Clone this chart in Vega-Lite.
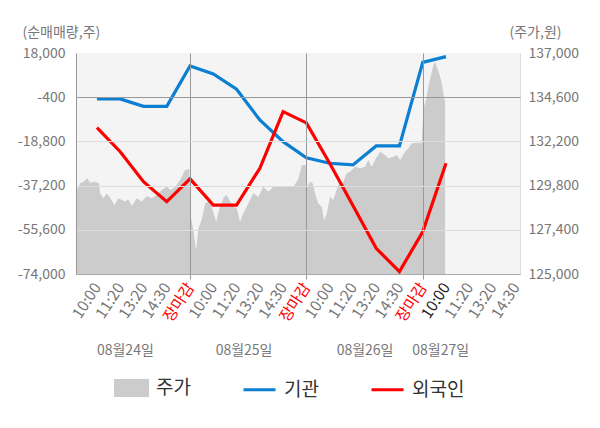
{
  "$schema": "https://vega.github.io/schema/vega-lite/v6.json",
  "autosize": {"type": "none"},
  "width": 444,
  "height": 221,
  "padding": {"left": 76, "top": 53, "right": 80, "bottom": 154},
  "background": "white",
  "config": {
    "view": {"fill": "#f4f4f4", "stroke": null},
    "font": "Noto Sans CJK KR",
    "axis": {"labelFont": "Noto Sans CJK KR", "titleFont": "Noto Sans CJK KR", "titleFontWeight": "normal"},
    "legend": {"labelFont": "Noto Sans CJK KR"}
  },
  "datasets": {
    "price": [
      {"i": -0.90, "p": 130380}, {"i": -0.84, "p": 129560}, {"i": -0.73, "p": 129930}, {"i": -0.58, "p": 130010},
      {"i": -0.41, "p": 130200}, {"i": -0.30, "p": 129960}, {"i": -0.08, "p": 130010}, {"i": 0.09, "p": 129930},
      {"i": 0.13, "p": 129380}, {"i": 0.28, "p": 129110}, {"i": 0.42, "p": 129380}, {"i": 0.56, "p": 129160},
      {"i": 0.75, "p": 128750}, {"i": 0.92, "p": 129110}, {"i": 1.07, "p": 129020}, {"i": 1.21, "p": 128930},
      {"i": 1.35, "p": 129060}, {"i": 1.50, "p": 128690}, {"i": 1.71, "p": 129110}, {"i": 1.93, "p": 128930},
      {"i": 2.14, "p": 129240}, {"i": 2.35, "p": 129110}, {"i": 2.57, "p": 129290}, {"i": 2.78, "p": 129560},
      {"i": 3.00, "p": 129740}, {"i": 3.17, "p": 129560}, {"i": 3.36, "p": 129740}, {"i": 3.57, "p": 130100},
      {"i": 3.79, "p": 130650}, {"i": 3.97, "p": 130700}, {"i": 4.03, "p": 128110}, {"i": 4.14, "p": 127390},
      {"i": 4.26, "p": 126300}, {"i": 4.36, "p": 127480}, {"i": 4.50, "p": 127930}, {"i": 4.65, "p": 128840},
      {"i": 4.79, "p": 128930}, {"i": 4.93, "p": 128650}, {"i": 5.12, "p": 127840}, {"i": 5.29, "p": 128650},
      {"i": 5.46, "p": 129200}, {"i": 5.58, "p": 129290}, {"i": 5.72, "p": 128930}, {"i": 5.86, "p": 128650},
      {"i": 6.01, "p": 128570}, {"i": 6.15, "p": 127840}, {"i": 6.29, "p": 128300}, {"i": 6.51, "p": 128840},
      {"i": 6.72, "p": 129380}, {"i": 6.94, "p": 129200}, {"i": 7.15, "p": 129740}, {"i": 7.37, "p": 129470},
      {"i": 7.58, "p": 129740}, {"i": 7.87, "p": 129740}, {"i": 8.16, "p": 129780}, {"i": 8.44, "p": 129740},
      {"i": 8.65, "p": 130140}, {"i": 8.81, "p": 130920}, {"i": 8.99, "p": 130920}, {"i": 9.04, "p": 129740},
      {"i": 9.16, "p": 130010}, {"i": 9.27, "p": 129930}, {"i": 9.37, "p": 129380}, {"i": 9.51, "p": 128840},
      {"i": 9.66, "p": 128650}, {"i": 9.76, "p": 127930}, {"i": 9.88, "p": 128300}, {"i": 10.02, "p": 129200},
      {"i": 10.16, "p": 129020}, {"i": 10.27, "p": 129470}, {"i": 10.37, "p": 129830}, {"i": 10.59, "p": 130010},
      {"i": 10.73, "p": 130470}, {"i": 10.88, "p": 130550}, {"i": 11.09, "p": 130830}, {"i": 11.31, "p": 130740},
      {"i": 11.52, "p": 130830}, {"i": 11.66, "p": 131190}, {"i": 11.81, "p": 130830}, {"i": 11.99, "p": 131280},
      {"i": 12.17, "p": 131640}, {"i": 12.38, "p": 131460}, {"i": 12.52, "p": 131280}, {"i": 12.74, "p": 131370},
      {"i": 12.88, "p": 131460}, {"i": 13.03, "p": 131190}, {"i": 13.24, "p": 131640}, {"i": 13.38, "p": 131830},
      {"i": 13.53, "p": 132100}, {"i": 13.74, "p": 132130}, {"i": 13.96, "p": 132130}, {"i": 14.03, "p": 134000},
      {"i": 14.14, "p": 134450}, {"i": 14.24, "p": 135170}, {"i": 14.34, "p": 135710}, {"i": 14.46, "p": 136350},
      {"i": 14.53, "p": 136530}, {"i": 14.60, "p": 136260}, {"i": 14.71, "p": 135900}, {"i": 14.82, "p": 135350},
      {"i": 14.89, "p": 134810}, {"i": 14.93, "p": 134450}, {"i": 14.96, "p": 134450}
    ],
    "flow": [
      {"i": 0, "s": "기관", "v": -1100}, {"i": 1, "s": "기관", "v": -1100}, {"i": 2, "s": "기관", "v": -4200},
      {"i": 3, "s": "기관", "v": -4200}, {"i": 4, "s": "기관", "v": 12600}, {"i": 5, "s": "기관", "v": 9300},
      {"i": 6, "s": "기관", "v": 2900}, {"i": 7, "s": "기관", "v": -9900}, {"i": 8, "s": "기관", "v": -18900},
      {"i": 9, "s": "기관", "v": -25600}, {"i": 10, "s": "기관", "v": -27900}, {"i": 11, "s": "기관", "v": -28600},
      {"i": 12, "s": "기관", "v": -20700}, {"i": 13, "s": "기관", "v": -20700}, {"i": 14, "s": "기관", "v": 14100},
      {"i": 15, "s": "기관", "v": 16500},
      {"i": 0, "s": "외국인", "v": -13100}, {"i": 1, "s": "외국인", "v": -23100}, {"i": 2, "s": "외국인", "v": -35600},
      {"i": 3, "s": "외국인", "v": -43900}, {"i": 4, "s": "외국인", "v": -34400}, {"i": 5, "s": "외국인", "v": -45300},
      {"i": 6, "s": "외국인", "v": -45300}, {"i": 7, "s": "외국인", "v": -30000}, {"i": 8, "s": "외국인", "v": -6400},
      {"i": 9, "s": "외국인", "v": -11100}, {"i": 10, "s": "외국인", "v": -27900}, {"i": 11, "s": "외국인", "v": -45500},
      {"i": 12, "s": "외국인", "v": -63300}, {"i": 13, "s": "외국인", "v": -73000}, {"i": 14, "s": "외국인", "v": -56400},
      {"i": 15, "s": "외국인", "v": -27900}
    ]
  },
  "layer": [
    {
      "data": {"name": "price"},
      "mark": {"type": "area", "clip": true, "interpolate": "linear"},
      "encoding": {
        "x": {
          "field": "i", "type": "quantitative",
          "scale": {"domain": [-0.9, 18.18], "nice": false, "zero": false},
          "axis": {
            "orient": "bottom",
            "values": [1.2, 6.3, 11.5, 14.75],
            "labelExpr": "datum.value < 3 ? '08월24일' : datum.value < 8 ? '08월25일' : datum.value < 13 ? '08월26일' : '08월27일'",
            "offset": 69, "domain": false, "ticks": false, "grid": false,
            "labelAngle": 0, "labelFontSize": 14, "labelColor": "#777777", "labelPadding": 0,
            "labelOverlap": false, "labelFlush": false, "labelBound": false, "title": null
          }
        },
        "y": {
          "field": "p", "type": "quantitative",
          "scale": {"domain": [125000, 137000], "nice": false, "zero": false},
          "axis": {
            "orient": "right",
            "values": [137000, 134600, 132200, 129800, 127400, 125000],
            "format": ",.0f", "labelFontSize": 14, "labelColor": "#777777", "labelPadding": 8,
            "ticks": false, "grid": false, "domain": true, "domainColor": "#dddddd",
            "title": "(주가,원)", "titleAngle": 0, "titleX": -11, "titleY": -21,
            "titleAlign": "left", "titleBaseline": "middle", "titleFontSize": 14, "titleColor": "#777777"
          }
        },
        "color": {
          "datum": "주가", "type": "nominal", "title": null,
          "scale": {"domain": ["주가", "기관", "외국인"], "range": ["#cccccc", "#0b7fd2", "#ff0000"]},
          "legend": {
            "orient": "none", "legendX": 38, "legendY": 317, "direction": "horizontal",
            "title": null, "labelFontSize": 19, "labelColor": "#333333",
            "symbolSize": 1024, "columnPadding": 46, "labelOffset": 7,
            "encode": {
              "symbols": {
                "update": {
                  "shape": {"signal": "datum.value === '주가' ? 'M-1,-0.47H1V0.47H-1Z' : 'M-1,0H1'"},
                  "fill": {"signal": "datum.value === '주가' ? '#cccccc' : 'transparent'"},
                  "stroke": {"signal": "datum.value === '주가' ? 'transparent' : (datum.value === '기관' ? '#0b7fd2' : '#ff0000')"},
                  "strokeWidth": {"value": 3},
                  "opacity": {"value": 1}
                }
              }
            }
          }
        }
      }
    },
    {
      "data": {"name": "flow"},
      "mark": {"type": "line", "strokeWidth": 3.2, "clip": true},
      "encoding": {
        "x": {
          "field": "i", "type": "quantitative",
          "axis": {
            "orient": "bottom",
            "values": [0, 1, 2, 3, 4, 5, 6, 7, 8, 9, 10, 11, 12, 13, 14, 15, 16, 17, 18],
            "labelExpr": "['10:00','11:20','13:20','14:30','장마감'][datum.value % 5]",
            "labelAngle": -57, "labelFontSize": 15.5, "labelPadding": 5,
            "labelColor": {"condition": [{"test": "datum.value % 5 == 4", "value": "#ff0000"}, {"test": "datum.value == 15", "value": "#222222"}], "value": "#777777"},
            "labelOverlap": false, "labelFlush": false, "labelBound": false,
            "grid": true, "gridColor": "#999999",
            "gridOpacity": {"condition": {"test": "datum.value % 5 == 4", "value": 1}, "value": 0},
            "ticks": true, "tickColor": "#999999", "tickSize": 5,
            "tickOpacity": {"condition": {"test": "datum.value % 5 == 4", "value": 1}, "value": 0},
            "domainColor": "#aaaaaa", "title": null, "zindex": 1
          }
        },
        "y": {
          "field": "v", "type": "quantitative",
          "scale": {"domain": [-74000, 18000], "nice": false, "zero": false},
          "axis": {
            "orient": "left",
            "values": [18000, -400, -18800, -37200, -55600, -74000],
            "labelExpr": "replace(format(datum.value, ',.0f'), '\u2212', '-')",
            "labelFontSize": 14, "labelColor": "#777777", "labelPadding": 11,
            "ticks": false, "domain": true, "domainColor": "#999999",
            "grid": true,
            "gridColor": {"condition": {"test": "datum.value == -400", "value": "#999999"}, "value": "#dddddd"},
            "gridOpacity": {"condition": {"test": "datum.value == 18000", "value": 0}, "value": 1},
            "title": "(순매매량,주)", "titleAngle": 0, "titleX": -54, "titleY": -21,
            "titleAlign": "left", "titleBaseline": "middle", "titleFontSize": 14, "titleColor": "#777777",
            "zindex": 1
          }
        },
        "color": {"field": "s", "type": "nominal", "title": null}
      }
    }
  ],
  "resolve": {"scale": {"y": "independent"}, "axis": {"x": "independent"}}
}
